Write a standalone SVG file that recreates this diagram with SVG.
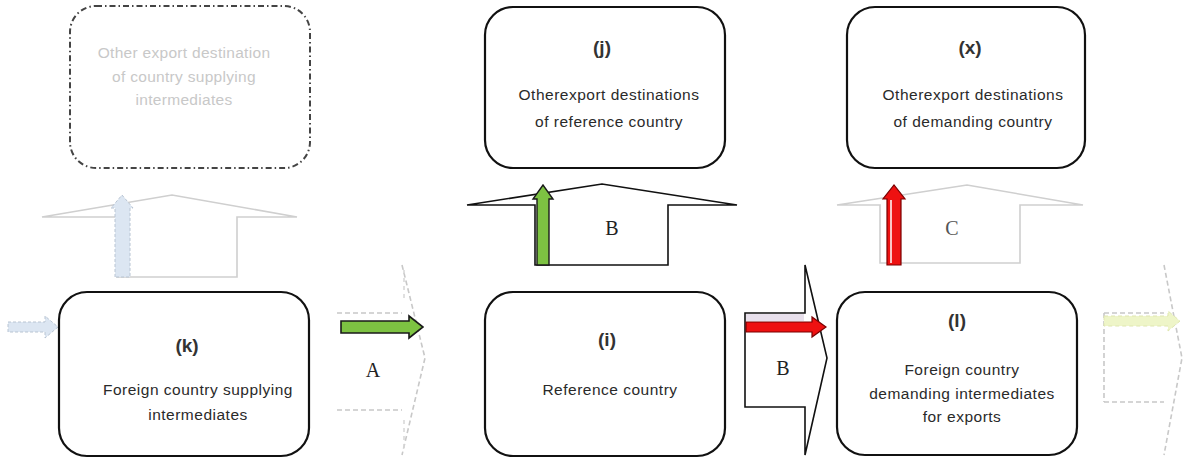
<svg xmlns="http://www.w3.org/2000/svg" width="1187" height="465" viewBox="0 0 1187 465">
<defs>
<style>
.box{fill:#fff;stroke:#111;stroke-width:2.2}
.ghostbox{fill:#fff;stroke:#444;stroke-width:2;stroke-dasharray:6 3 1.5 3}
.t{font-family:"Liberation Sans",Arial,sans-serif;font-size:15.5px;letter-spacing:0.5px;fill:#2a2a2a;text-anchor:middle}
.tg{font-family:"Liberation Sans",Arial,sans-serif;font-size:15.5px;letter-spacing:0.3px;fill:#c8c8c8;text-anchor:middle}
.lab{font-family:"Liberation Sans",Arial,sans-serif;font-size:19px;font-weight:bold;fill:#333;text-anchor:middle}
.ser{font-family:"Liberation Serif","Times New Roman",serif;font-size:20px;fill:#222;text-anchor:middle}
.ser2{font-family:"Liberation Serif","Times New Roman",serif;font-size:20px;fill:#555;text-anchor:middle}
.blk{fill:#fff;stroke:#111;stroke-width:1.6}
.ghost{fill:#fff;stroke:#cfcfcf;stroke-width:1.6}
.ghostd{fill:none;stroke:#c8c8c8;stroke-width:1.6;stroke-dasharray:5 3}
</style>
</defs>
<rect width="1187" height="465" fill="#fff"/>

<g id="connectors">
  <!-- ghost up arrow above k -->
  <path class="ghost" d="M117,277 V217 H42 L172,195 L297,217 H237 V277 Z"/>
  <!-- blue dashed small up arrow -->
  <path d="M115,277 V208 H111 L122,195 L133,208 H130 V277 Z" fill="#dce6f2" stroke="#b8c4d2" stroke-width="1" stroke-dasharray="3 2"/>
  <!-- blue dashed incoming arrow at left -->
  <path d="M8,322 H45 V316 L58,327 L45,338 V332 H8 Z" fill="#dce6f2" stroke="#b8c4d2" stroke-width="1" stroke-dasharray="3 2"/>

  <!-- ghost dashed right arrow A -->
  <path class="ghostd" d="M337,313 H402 M337,410 H402 M402,265 L425,358 L402,455"/>
  <path d="M404,270 V300 M404,420 V450" stroke="#d6d6d6" stroke-width="1.5" stroke-dasharray="4 4"/>
  <!-- green arrow A -->
  <path d="M341,321 H409 V316 L423,327 L409,338 V333 H341 Z" fill="#7dc242" stroke="#1a1a1a" stroke-width="1.6"/>
  <text class="ser" x="373" y="377">A</text>

  <!-- black up block arrow B -->
  <path class="blk" d="M535,265 V205 H467 L602,184 L737,205 H668 V265 Z"/>
  <!-- green up arrow -->
  <path d="M537,265 V199 H533 L543,185 L553,199 H549 V265 Z" fill="#7dc242" stroke="#1a1a1a" stroke-width="1.4"/>
  <text class="ser" x="612" y="235">B</text>

  <!-- black right block arrow B -->
  <path class="blk" d="M745,313 H805 V265 L827,358 L805,455 V407 H745 Z"/>
  <rect x="746" y="314" width="58" height="7" fill="#e8e0ec"/>
  <!-- red arrow -->
  <path d="M746,322 H812 V317 L826,327 L812,337 V332 H746 Z" fill="#ee1111" stroke="#7a0000" stroke-width="1.2"/>
  <text class="ser" x="783" y="375">B</text>

  <!-- ghost up block arrow C -->
  <path class="ghost" d="M880,263 V205 H837 L967,185 L1083,205 H1020 V263 Z"/>
  <!-- red up arrow -->
  <path d="M887,265 V199 H883 L894,185 L905,199 H901 V265 Z" fill="#ee1111" stroke="#7a0000" stroke-width="1.2"/>
  <line x1="891" y1="200" x2="891" y2="263" stroke="#fff" stroke-width="1.5"/>
  <text class="ser2" x="952" y="235">C</text>

  <!-- ghost dashed right arrow at far right -->
  <path class="ghostd" d="M1104,313 H1164 M1104,313 V402 M1104,402 H1164 M1164,265 L1182,358 L1164,455"/>
  <path d="M1104,316 H1168 V311 L1180,321 L1168,331 V326 H1104 Z" fill="#eef5c8" stroke="#dfe6b0" stroke-width="1" stroke-dasharray="4 3"/>
</g>

<g id="node-ghost">
  <rect class="ghostbox" x="70" y="6" width="240" height="162" rx="26"/>
  <text class="tg" x="184" y="58">Other export destination</text>
  <text class="tg" x="184" y="82">of country supplying</text>
  <text class="tg" x="184" y="105">intermediates</text>
</g>

<g id="node-k">
  <rect class="box" x="59" y="292" width="250" height="164" rx="28"/>
  <text class="lab" x="187" y="352">(k)</text>
  <text class="t" x="198" y="395">Foreign country supplying</text>
  <text class="t" x="198" y="420">intermediates</text>
</g>

<g id="node-j">
  <rect class="box" x="485" y="7" width="240" height="161" rx="28"/>
  <text class="lab" x="602" y="54">(j)</text>
  <text class="t" x="609" y="100">Otherexport destinations</text>
  <text class="t" x="609" y="127">of reference country</text>
</g>

<g id="node-i">
  <rect class="box" x="485" y="292" width="240" height="164" rx="28"/>
  <text class="lab" x="607" y="346">(i)</text>
  <text class="t" x="610" y="395">Reference country</text>
</g>

<g id="node-x">
  <rect class="box" x="847" y="7" width="238" height="161" rx="28"/>
  <text class="lab" x="970" y="54">(x)</text>
  <text class="t" x="973" y="100">Otherexport destinations</text>
  <text class="t" x="973" y="127">of demanding country</text>
</g>

<g id="node-l">
  <rect class="box" x="837" y="292" width="240" height="163" rx="28"/>
  <text class="lab" x="957" y="327">(l)</text>
  <text class="t" x="962" y="375">Foreign country</text>
  <text class="t" x="962" y="399">demanding intermediates</text>
  <text class="t" x="962" y="422">for exports</text>
</g>
</svg>
